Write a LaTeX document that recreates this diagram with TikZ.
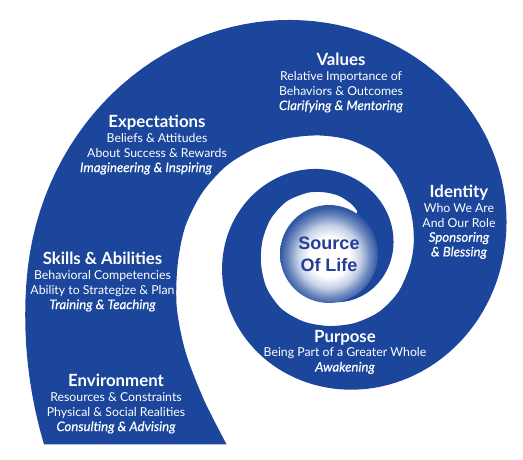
\documentclass[tikz,border=0pt]{standalone}
\usepackage{fontspec}
\setmainfont{Lato}
\newfontfamily\corefont{Liberation Sans}
\newfontfamily\taskfont{Lato Italic}[FakeBold=0.6]
\definecolor{SpiralBlue}{RGB}{27,70,155}
\definecolor{CoreBlue}{RGB}{38,62,150}
\pgfdeclareradialshading{coreshade}{\pgfpoint{0bp}{-2bp}}{%
  color(0bp)=(white); color(10bp)=(white); color(16bp)=(SpiralBlue!25!white);
  color(21bp)=(SpiralBlue!65!white); color(25bp)=(SpiralBlue!90!white);
  color(50bp)=(SpiralBlue)}
\newcommand{\headline}[1]{{\fontsize{16.8}{14.7}\selectfont\bfseries #1}}
\newcommand{\task}[1]{{\taskfont\fontsize{13.2}{14.7}\selectfont #1}}

\begin{document}
\begin{tikzpicture}[x=1pt,y=-1pt,
  declare function={ro(\t)=175*exp(\t*(0.00281+0.00017*(\t>0)))+0.0155*max(0,\t-185)^2;},
  spiral/.style={fill=SpiralBlue},
  lab/.style={text=white,align=center,inner sep=0pt,
    font=\fontsize{12.3}{14.7}\selectfont},
  core/.style={circle,minimum size=98pt,inner sep=0pt,shading=coreshade,
    text=CoreBlue,align=center,font=\corefont\fontsize{18}{22}\selectfont\bfseries}
]
\useasboundingbox (0,0) rectangle (523,460);
% spiral band: outer edge inward, then inner edge back out
\begin{scope}[shift={(329,252)},x=1pt,y=1pt]
\fill[spiral] plot[domain=214:-455,samples=240,variable=\t] (\t:{ro(\t)})
  -- plot[smooth] coordinates {
  (-305:49.5) (-295:53) (-280:57) (-265:60) (-250:63) (-230:66) (-210:67)
  (-190:67.5) (-170:69) (-150:72) (-130:74) (-110:74) (-90:74) (-70:75.5)
  (-50:78) (-30:80) (-10:82) (5:85) (20:89) (35:95) (50:103) (65:110)
  (80:114) (95:117) (110:121) (125:127) (140:134) (155:140) (170:146)
  (185:152) (200:162) (215:175) (230:194) (242:218)}
  -- cycle;
\end{scope}
% centre
\node[core] (source) at (329,254) {Source\\Of Life};
% labels on the band
\node[lab] (values) at (341,83) {\headline{Values}\\Relative Importance of\\
  Behaviors \& Outcomes\\\task{Clarifying \& Mentoring}};
\node[lab] (identity) at (459,222) {\headline{Identity}\\Who We Are\\
  And Our Role\\\task{Sponsoring}\\\task{\& Blessing}};
\node[lab] (expect) at (157,145) {\headline{Expectations}\\Beliefs \& Attitudes\\
  About Success \& Rewards\\\task{Imagineering \& Inspiring}\hspace*{22pt}};
\node[lab] (skills) at (102.5,282) {\headline{Skills \& Abilities}\\
  Behavioral Competencies\\Ability to Strategize \& Plan\\
  \task{Training \& Teaching}};
\node[lab] (environ) at (116,404) {\headline{Environment}\\
  Resources \& Constraints\\Physical \& Social Realities\\
  \task{Consulting \& Advising}};
\node[lab] (purpose) at (345,352) {\headline{Purpose}\\
  Being Part of a Greater Whole\\\task{Awakening}};
\end{tikzpicture}
\end{document}
